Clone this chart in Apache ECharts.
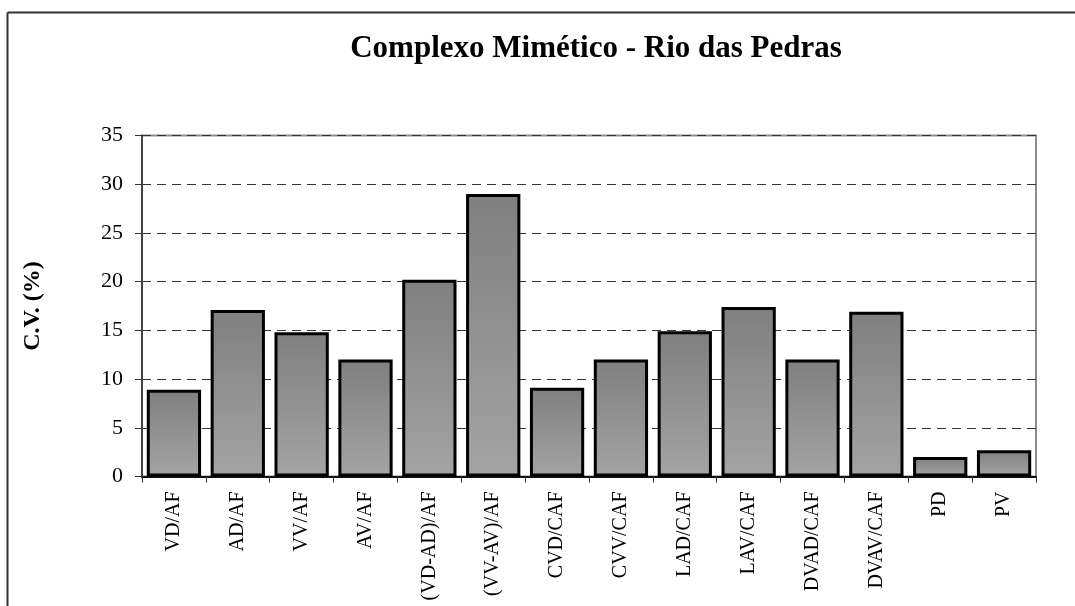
<!DOCTYPE html>
<html>
<head>
<meta charset="utf-8">
<title>Complexo Mimético - Rio das Pedras</title>
<script src="https://cdn.jsdelivr.net/npm/echarts@6/dist/echarts.min.js"></script>
<style>
  html, body { margin: 0; padding: 0; background: #ffffff; }
  #chart { width: 1075px; height: 606px; }
</style>
</head>
<body>
<div id="chart"></div>
<script>
// Categories (ratios) and coefficient of variation values (%)
const categories = [
  'VD/AF', 'AD/AF', 'VV/AF', 'AV/AF', '(VD-AD)/AF', '(VV-AV)/AF',
  'CVD/CAF', 'CVV/CAF', 'LAD/CAF', 'LAV/CAF', 'DVAD/CAF', 'DVAV/CAF',
  'PD', 'PV'
];
const cvValues = [8.9, 17.1, 14.8, 12.0, 20.2, 29.0, 9.1, 12.0, 14.9, 17.4, 12.0, 16.9, 2.0, 2.7];

const titleText = 'Complexo Mimético - Rio das Pedras';
const yAxisName = 'C.V. (%)';

const serif = '"Liberation Serif", "DejaVu Serif", serif';

const chart = echarts.init(document.getElementById('chart'), null, { renderer: 'canvas' });

chart.setOption({
  backgroundColor: '#ffffff',
  animation: false,
  title: {
    text: titleText,
    left: 591,
    textAlign: 'center',
    top: 28,
    textStyle: { fontFamily: serif, fontSize: 31, fontWeight: 'bold', color: '#000' }
  },
  graphic: [
    // outer frame edges (top and left)
    { type: 'line', shape: { x1: 7.5, y1: 12.5, x2: 1075, y2: 12.5 }, style: { stroke: '#333', lineWidth: 2 } },
    { type: 'line', shape: { x1: 7.5, y1: 12.5, x2: 7.5, y2: 606 }, style: { stroke: '#333', lineWidth: 2 } }
  ],
  grid: {
    left: 142,
    right: 39,
    top: 135.5,
    bottom: 129.5,
    show: true,
    borderColor: '#8c8c8c',
    borderWidth: 2,
    containLabel: false
  },
  xAxis: {
    type: 'category',
    data: categories,
    axisLine: { lineStyle: { color: '#111', width: 2 } },
    axisTick: { show: true, length: 6, lineStyle: { color: '#333', width: 1 } },
    axisLabel: {
      rotate: 90,
      margin: 15,
      interval: 0,
      fontFamily: serif,
      fontSize: 20,
      color: '#000'
    },
    splitLine: { show: false }
  },
  yAxis: {
    type: 'value',
    min: 0,
    max: 35,
    interval: 5,
    name: yAxisName,
    nameLocation: 'middle',
    nameGap: 97,
    nameRotate: 90,
    nameTextStyle: { fontFamily: serif, fontSize: 24, fontWeight: 'bold', color: '#000' },
    axisLine: { show: true, lineStyle: { color: '#444', width: 2 } },
    axisTick: { show: true, inside: false, length: 7, lineStyle: { color: '#333', width: 1 } },
    axisLabel: { fontFamily: serif, fontSize: 22, color: '#000', margin: 19 },
    splitLine: { show: true, lineStyle: { color: '#333', type: [9, 6], width: 1 } }
  },
  series: [{
    type: 'bar',
    data: cvValues,
    barCategoryGap: '15%',
    itemStyle: {
      color: new echarts.graphic.LinearGradient(0, 0, 0, 1, [
        { offset: 0, color: '#7f7f7f' },
        { offset: 1, color: '#a4a4a4' }
      ]),
      borderColor: '#000',
      borderWidth: 3
    }
  }]
});
</script>
</body>
</html>
